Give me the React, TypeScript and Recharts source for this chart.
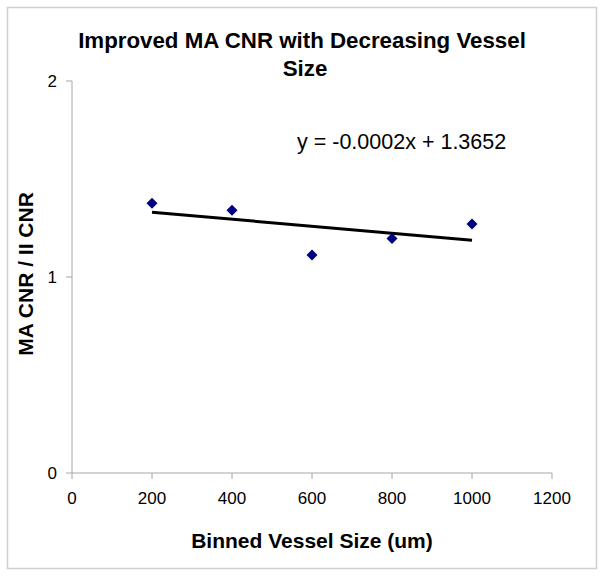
import { ScatterChart, Scatter, XAxis, YAxis } from 'recharts'

// Binned vessel sizes (um) and measured CNR ratio
const vesselSizes = [200, 400, 600, 800, 1000]
const cnrRatios = [1.376, 1.34, 1.112, 1.197, 1.27]

// Linear trend line end points (y = -0.0002x + 1.3652)
const trendX = [200, 1000]
const trendY = [1.33, 1.188]

const xTicks = [0, 200, 400, 600, 800, 1000, 1200]
const yTicks = [0, 1, 2]

const points = vesselSizes.map((x, i) => ({ x, y: cnrRatios[i] }))
const trend = trendX.map((x, i) => ({ x, y: trendY[i] }))

const FONT = '"Liberation Sans", Arial, sans-serif'
const AXIS = '#a6a6a6'

const Diamond = (props: any) => {
  const { cx, cy } = props
  const r = 5.5
  return (
    <path
      d={`M${cx},${cy - r}L${cx + r},${cy}L${cx},${cy + r}L${cx - r},${cy}Z`}
      fill="#000080"
    />
  )
}

export default function App() {
  return (
    <div style={{ position: 'absolute', left: 0, top: 0, width: 604, height: 577, background: '#fff' }}>
      <ScatterChart width={604} height={577} margin={{ top: 81, right: 52, bottom: 54, left: 0 }}>
        <XAxis
          type="number"
          dataKey="x"
          domain={[0, 1200]}
          ticks={xTicks}
          height={50}
          stroke={AXIS}
          tickSize={6}
          tickMargin={13}
          tick={{ fill: '#000', fontSize: 17, fontFamily: FONT }}
          label={{
            content: (p: any) => {
              const vb = p.viewBox
              return (
                <text
                  x={vb.x + vb.width / 2}
                  y={vb.y + 75}
                  textAnchor="middle"
                  fontSize={21}
                  fontWeight="bold"
                  fontFamily={FONT}
                  fill="#000"
                >
                  Binned Vessel Size (um)
                </text>
              )
            },
          }}
        />
        <YAxis
          type="number"
          dataKey="y"
          domain={[0, 2]}
          ticks={yTicks}
          width={72}
          stroke={AXIS}
          tickSize={6}
          tickMargin={9}
          tick={{ fill: '#000', fontSize: 17, fontFamily: FONT }}
          label={{
            content: (p: any) => {
              const vb = p.viewBox
              const cy = vb.y + vb.height / 2 - 3
              return (
                <text
                  x={25}
                  y={cy}
                  transform={`rotate(-90, 25, ${cy})`}
                  textAnchor="middle"
                  dominantBaseline="central"
                  fontSize={21}
                  fontWeight="bold"
                  fontFamily={FONT}
                  fill="#000"
                >
                  MA CNR / II CNR
                </text>
              )
            },
          }}
        />
        <Scatter
          data={trend}
          line={{ stroke: '#000', strokeWidth: 3 }}
          shape={() => <g />}
          isAnimationActive={false}
        />
        <Scatter data={points} shape={Diamond} isAnimationActive={false} />
      </ScatterChart>
      <svg
        width={604}
        height={577}
        style={{ position: 'absolute', left: 0, top: 0, pointerEvents: 'none' }}
      >
        <rect x={7.5} y={7.5} width={589} height={561} fill="none" stroke="#cfcfcf" strokeWidth={1.5} />
        <text x={302} y={48} textAnchor="middle" fontSize={22.3} fontWeight="bold" fontFamily={FONT}>
          Improved MA CNR with Decreasing Vessel
        </text>
        <text x={305} y={76} textAnchor="middle" fontSize={22.3} fontWeight="bold" fontFamily={FONT}>
          Size
        </text>
        <text x={297} y={149} fontSize={21.5} fontFamily={FONT}>
          y = -0.0002x + 1.3652
        </text>
      </svg>
    </div>
  )
}
